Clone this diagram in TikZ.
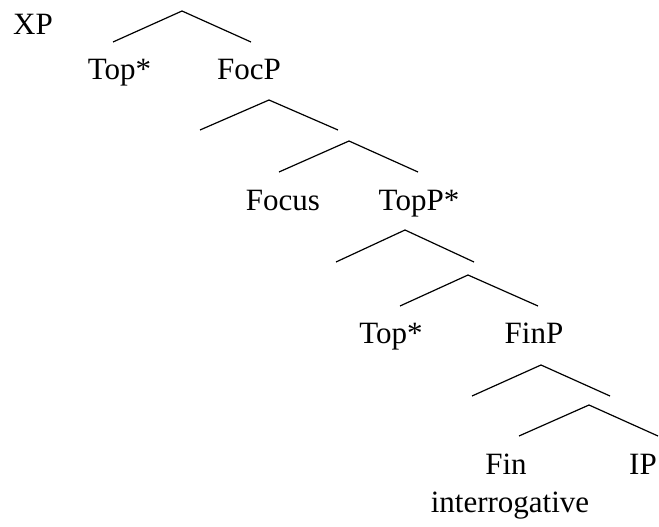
\documentclass[tikz,border=0pt]{standalone}
\usepackage{fontspec}
\setmainfont{Liberation Serif}
\begin{document}
\begin{tikzpicture}[x=1pt,y=-1pt,
  lbl/.style={anchor=base,inner sep=0pt,font=\fontsize{31pt}{37pt}\selectfont},
  branch/.style={draw=black,line width=1.2pt}]
\useasboundingbox (0,0) rectangle (659,527);
% labels
\node[lbl] (xp) at (33,35) {XP};
\node[lbl] (top1) at (119.5,80) {Top*};
\node[lbl] (focp) at (249,80) {FocP};
\node[lbl] (focus) at (283,210) {Focus};
\node[lbl] (topp) at (419,210) {TopP*};
\node[lbl] (top2) at (391,343) {Top*};
\node[lbl] (finp) at (534,343) {FinP};
\node[lbl] (fin) at (506,474) {Fin};
\node[lbl] (ip) at (643,474) {IP};
\node[lbl] (interr) at (510,512) {interrogative};
% branch points
\coordinate (a1) at (182,11); \coordinate (l1) at (113,42); \coordinate (r1) at (251,42);
\coordinate (a2) at (269,100); \coordinate (l2) at (200,130); \coordinate (r2) at (338,130);
\coordinate (a3) at (349,141); \coordinate (l3) at (279,172); \coordinate (r3) at (418,172);
\coordinate (a4) at (405,230); \coordinate (l4) at (336,262); \coordinate (r4) at (474,262);
\coordinate (a5) at (468,275); \coordinate (l5) at (400,306); \coordinate (r5) at (538,306);
\coordinate (a6) at (541,365); \coordinate (l6) at (472,396); \coordinate (r6) at (610,396);
\coordinate (a7) at (589,405); \coordinate (l7) at (519,436); \coordinate (r7) at (658,436);
\foreach \i in {1,...,7}{
  \draw[branch] (l\i) -- (a\i) -- (r\i);
}
\end{tikzpicture}
\end{document}
